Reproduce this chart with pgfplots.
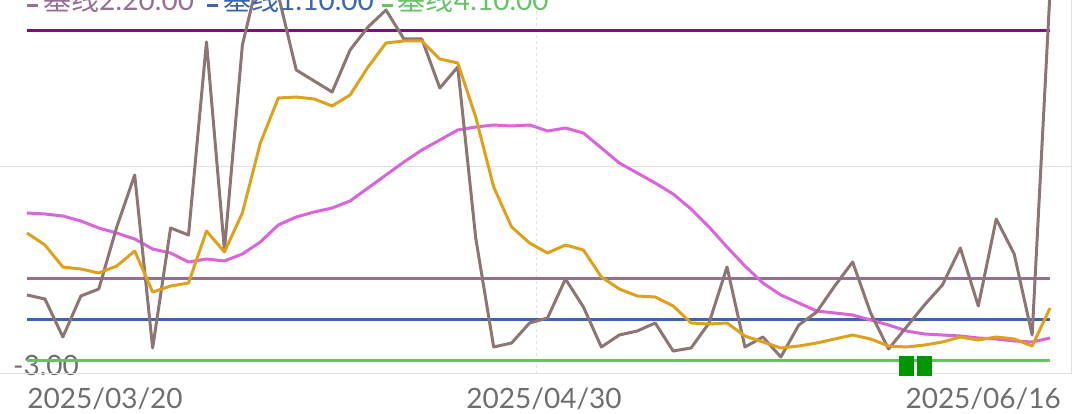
\documentclass[border=0pt]{standalone}
\usepackage{pgfplots}
\usepackage{pgfplotstable}
\pgfplotsset{compat=1.18}
\usepackage{fontspec}
\setmainfont{Lato}
\newfontfamily\cjk{Noto Sans CJK SC}
\definecolor{cBrown}{RGB}{141,117,115}
\definecolor{cOrange}{RGB}{223,161,28}
\definecolor{cMagenta}{RGB}{218,100,218}
\definecolor{cDark}{RGB}{120,20,120}
\definecolor{cPurple}{RGB}{150,110,150}
\definecolor{cBlue}{RGB}{60,100,175}
\definecolor{cGreen}{RGB}{100,195,100}
\definecolor{cSq}{RGB}{0,150,0}
\definecolor{cGrid}{RGB}{224,224,224}
\definecolor{cLabel}{RGB}{110,110,110}

\pgfplotstableread{
i brown orange magenta
0 4.9 11.1 13.1
1 4.5 9.9 13.0
2 0.7 7.7 12.8
3 4.8 7.5 12.3
4 5.5 7.1 11.6
5 11.7 7.8 11.1
6 16.9 9.3 10.5
7 -0.4 5.2 9.5
8 11.6 5.8 9.1
9 10.9 6.1 8.2
10 30.2 11.3 8.5
11 9.4 9.2 8.3
12 29.9 13.1 9.0
13 37.4 20.1 10.2
14 34.9 24.6 11.9
15 27.4 24.7 12.7
16 26.3 24.5 13.2
17 25.2 23.8 13.6
18 29.4 24.9 14.3
19 31.7 27.7 15.6
20 33.4 30.1 16.9
21 30.5 30.3 18.2
22 30.5 30.3 19.4
23 25.6 28.5 20.4
24 27.7 28.1 21.4
25 10.6 22.7 21.7
26 -0.3 15.7 21.9
27 0.1 11.7 21.8
28 2.1 10.1 21.9
29 2.6 9.1 21.3
30 6.5 9.9 21.6
31 3.7 9.4 21.1
32 -0.3 6.7 19.6
33 0.9 5.5 18.1
34 1.3 4.8 17.1
35 2.1 4.7 16.1
36 -0.7 3.8 15.0
37 -0.4 2.1 13.5
38 2.1 2.0 11.7
39 7.7 2.1 9.7
40 -0.3 0.8 7.8
41 0.7 0.2 6.1
42 -1.3 -0.4 4.9
43 1.9 -0.2 4.1
44 3.2 0.1 3.3
45 5.8 0.5 3.1
46 8.2 0.9 2.9
47 3.1 0.5 2.4
48 -0.5 -0.2 1.9
49 1.7 -0.3 1.3
50 3.9 -0.1 1.0
51 5.9 0.2 0.9
52 9.6 0.7 0.8
53 3.8 0.4 0.6
54 12.5 0.7 0.5
55 9.0 0.5 0.3
56 0.9 -0.2 0.2
57 35.4 3.6 0.6
}\data

\begin{document}
\begin{tikzpicture}
\useasboundingbox (0pt,-40pt) rectangle (1080pt,374pt);
\clip (0pt,-40pt) rectangle (1080pt,374pt);
\begin{axis}[
  at={(0pt,0pt)}, anchor=south west,
  scale only axis, width=1072pt, height=374pt,
  xmin=-1.504, xmax=58.22, ymin=-3, ymax=34.4,
  axis line style={draw=none},
  xtick={4.35,28.81,53.27},
  xticklabels={2025/03/20,2025/04/30,2025/06/16},
  ytick={-3}, yticklabels={-3.00},
  major tick length=0pt,
  tick label style={font=\fontsize{28}{30}\selectfont, text=cLabel, inner sep=0pt},
  xticklabel style={anchor=base, yshift=-35pt},
  yticklabel style={anchor=base west, xshift=13pt, yshift=-2pt},
  extra y ticks={17.7}, extra y tick labels={},
  extra y tick style={grid=major, major grid style={cGrid, line width=1pt}},
  extra x ticks={28.4}, extra x tick labels={},
  extra x tick style={grid=major, major grid style={cGrid, dashed, line width=1pt}},
  clip=true,
]
\draw[cGrid, line width=1pt] (rel axis cs:1,0) -- (rel axis cs:1,1);
\draw[cGrid, line width=1pt] (rel axis cs:0,0) -- (rel axis cs:1,0);

\addplot[cDark, line width=3pt] coordinates {(0,31.3) (57,31.3)};
\addplot[cPurple, line width=3pt] coordinates {(0,6.5) (57,6.5)};
\addplot[cBlue, line width=3pt] coordinates {(0,2.4) (57,2.4)};
\addplot[cGreen, line width=3pt] coordinates {(0,-1.7) (57,-1.7)};

\addplot[cMagenta, line width=3pt, line join=round] table[x=i, y=magenta] {\data};
\addplot[cBrown, line width=3pt, line join=round] table[x=i, y=brown] {\data};
\addplot[cOrange, line width=3pt, line join=round] table[x=i, y=orange] {\data};

\addplot[only marks, mark=square*, mark size=9.5pt, mark options={xscale=0.76, fill=cSq, draw=cSq, line width=0pt}] coordinates {(49,-2.25) (50,-2.25)};

\node[anchor=base west, inner sep=0pt, font=\fontsize{28}{30}\selectfont, text=cPurple] at (rel axis cs:0.0252,0.9706) {\rule[4pt]{11pt}{3pt}\hspace{5pt}{\cjk 基线}2:20.00};
\node[anchor=base west, inner sep=0pt, font=\fontsize{28}{30}\selectfont, text=cBlue] at (rel axis cs:0.193,0.9706) {\rule[4pt]{11pt}{3pt}\hspace{5pt}{\cjk 基线}1:10.00};
\node[anchor=base west, inner sep=0pt, font=\fontsize{28}{30}\selectfont, text=cGreen] at (rel axis cs:0.356,0.9706) {\rule[4pt]{11pt}{3pt}\hspace{5pt}{\cjk 基线}4:10.00};
\end{axis}
\end{tikzpicture}
\end{document}
